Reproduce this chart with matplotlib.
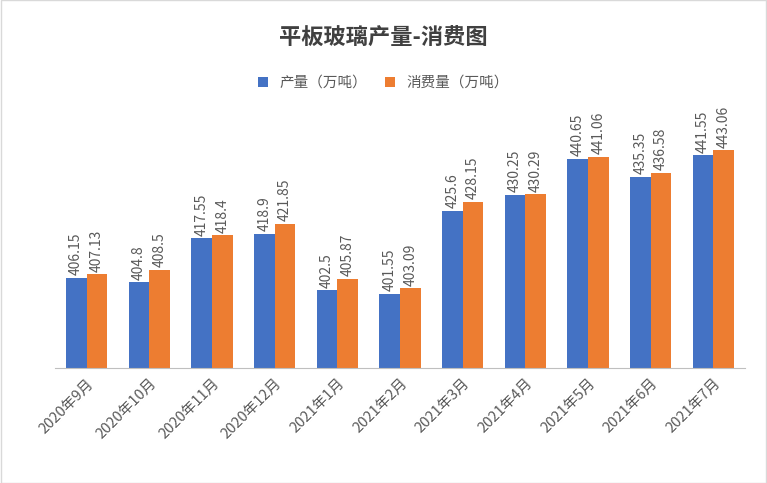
import numpy as np
import matplotlib.pyplot as plt
from matplotlib.patches import Rectangle

plt.rcParams["font.family"] = ["Noto Sans CJK JP", "Noto Sans CJK SC", "DejaVu Sans"]

months = ["2020年9月", "2020年10月", "2020年11月", "2020年12月", "2021年1月", "2021年2月",
          "2021年3月", "2021年4月", "2021年5月", "2021年6月", "2021年7月"]
production = [406.15, 404.8, 417.55, 418.9, 402.5, 401.55, 425.6, 430.25, 440.65, 435.35, 441.55]
consumption = [407.13, 408.5, 418.4, 421.85, 405.87, 403.09, 428.15, 430.29, 441.06, 436.58, 443.06]

fig = plt.figure(figsize=(7.67, 4.83), dpi=100)
ax = fig.add_axes([0.072, 0.238, 0.899, 0.572])
x = np.arange(len(months))
w = 0.33
b1 = ax.bar(x - w / 2, production, w, color="#4472C4", label="产量（万吨）")
b2 = ax.bar(x + w / 2, consumption, w, color="#ED7D31", label="消费量（万吨）")
for bars, vals in ((b1, production), (b2, consumption)):
    for r, v in zip(bars, vals):
        ax.text(r.get_x() + r.get_width() / 2, v + 0.8, f"{v:g}", rotation=90,
                ha="center", va="bottom", fontsize=10, color="#595959")

ax.set_ylim(380, 460)
ax.set_xlim(-0.5, len(months) - 0.5)
ax.set_yticks([])
ax.set_xticks(x)
ax.set_xticklabels(months, rotation=45, ha="right", rotation_mode="anchor",
                   fontsize=10.5, color="#595959")
ax.tick_params(axis="x", length=0, pad=6)
for s in ("top", "right", "left"):
    ax.spines[s].set_visible(False)
ax.spines["bottom"].set_color("#BFBFBF")

fig.text(0.5, 0.92, "平板玻璃产量-消费图", ha="center", va="center",
         fontsize=16, fontweight="bold", color="#404040")
fig.legend(loc="center", bbox_to_anchor=(0.5, 0.828), ncol=2, frameon=False,
           fontsize=10.5, handlelength=0.7, handleheight=0.7, columnspacing=1.2,
           labelcolor="#595959")
fig.patches.append(Rectangle((0.001, 0.001), 0.998, 0.998, transform=fig.transFigure,
                             fill=False, edgecolor="#D9D9D9", linewidth=1))
fig.savefig("out.png", dpi=100)
